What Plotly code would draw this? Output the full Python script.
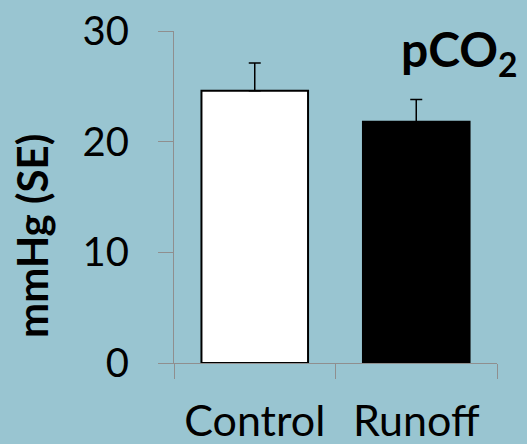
import plotly.graph_objects as go

categories = ["Control", "Runoff"]
values = [24.6, 21.8]
se = [2.5, 2.0]
bar_colors = ["white", "black"]
y_ticks = [0, 10, 20, 30]
y_title = "mmHg (SE)"
panel_label = "<b>pCO<sub>2</sub></b>"

W, H = 527, 444
ML, MR, MT, MB = 174, 30, 31, 81
PW, PH = W - ML - MR, H - MT - MB


def px_x(px):
    return (px - ML) / PW


def px_y(py):
    return (H - MB - py) / PH


FONT = "Lato"
BG = "#99c5d1"
AX = "#8f8f8f"

fig = go.Figure(
    go.Bar(
        x=categories,
        y=values,
        width=0.66,
        marker=dict(color=bar_colors, line=dict(color="black", width=2)),
        error_y=dict(
            type="data",
            symmetric=False,
            array=se,
            arrayminus=[0] * len(se),
            color="black",
            thickness=1.5,
            width=6,
        ),
    )
)

fig.update_layout(
    width=W,
    height=H,
    margin=dict(l=ML, r=MR, t=MT, b=MB, autoexpand=False),
    paper_bgcolor=BG,
    plot_bgcolor=BG,
    showlegend=False,
    font=dict(family=FONT, color="black"),
    xaxis=dict(
        range=[-0.5, 1.5],
        automargin=False,
        showline=True,
        linecolor=AX,
        linewidth=1.2,
        ticks="outside",
        tickson="boundaries",
        ticklen=15,
        tickwidth=1.2,
        tickcolor=AX,
        showgrid=False,
        tickfont=dict(size=43, family=FONT, color="black"),
        ticklabelstandoff=20,
    ),
    yaxis=dict(
        range=[0, 30],
        automargin=False,
        tickvals=y_ticks,
        showline=True,
        linecolor=AX,
        linewidth=1.2,
        ticks="outside",
        ticklen=15,
        tickwidth=1.2,
        tickcolor=AX,
        showgrid=False,
        zeroline=False,
        tickfont=dict(size=40, family=FONT, color="black"),
        ticklabelstandoff=21,
    ),
    annotations=[
        dict(
            text=f"<b>{y_title}</b>",
            xref="paper",
            yref="paper",
            x=px_x(32),
            y=px_y(236),
            xanchor="center",
            yanchor="middle",
            textangle=-90,
            showarrow=False,
            font=dict(size=42, family=FONT, color="black"),
        ),
        dict(
            text=panel_label,
            xref="paper",
            yref="paper",
            x=px_x(399),
            y=px_y(52),
            xanchor="left",
            yanchor="middle",
            showarrow=False,
            font=dict(size=48, family=FONT, color="black"),
        ),
    ],
)

fig.write_html("out.html")
